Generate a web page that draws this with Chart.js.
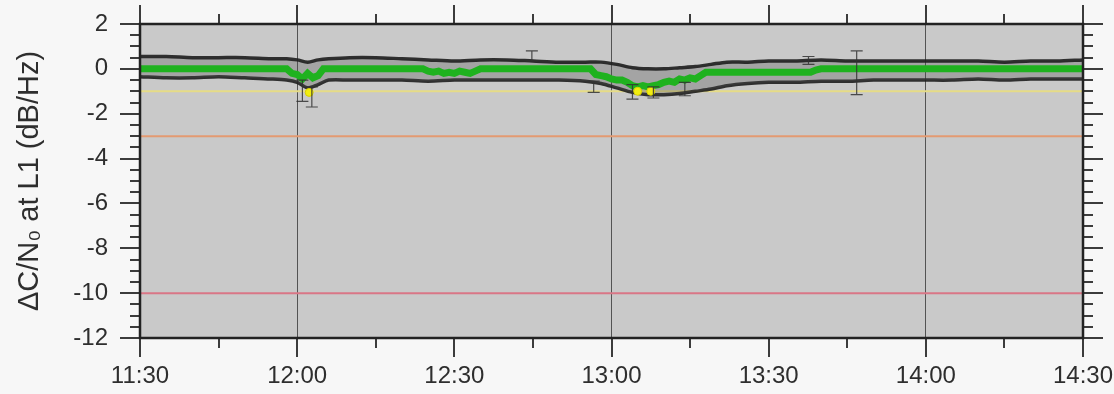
<!DOCTYPE html>
<html>
<head>
<meta charset="utf-8">
<script src="https://cdn.jsdelivr.net/npm/chart.js@4/dist/chart.umd.min.js"></script>
<style>
html,body{margin:0;padding:0;background:#f7f7f7;}
#wrap{width:1114px;height:394px;position:relative;}
</style>
</head>
<body>
<div id="wrap"><canvas id="c"></canvas></div>
<script>
// ---- data (time in minutes since midnight) ----
const xTickValues = [690, 720, 750, 780, 810, 840, 870];
const yTickValues = [2, 0, -2, -4, -6, -8, -10, -12];

// green mean series, one value per minute from 11:30 (690) to 14:30 (870)
const meanStart = 690;
const meanValues = [
  0,0,0,0,0,0,0,0,0,0, 0,0,0,0,0,0,0,0,0,0, 0,0,0,0,0,0,0,0,0,-0.2,
  -0.25,-0.45,-0.2,-0.4,-0.3,0,0,0,0,0, 0,0,0,0,0,0,0,0,0,0, 0,0,0,0,0,
  -0.1,-0.15,-0.1,-0.2,-0.15,-0.2,-0.1,-0.15,-0.2,-0.1,
  0,0,0,0,0,0,0,0,0,0, 0,0,0,0,0,0,0,0,0,0, 0,0,
  -0.25,-0.3,-0.35,
  -0.45,-0.5,-0.5,-0.6,-0.75,-0.8,-0.75,-0.8,-0.75,-0.7,
  -0.6,-0.55,-0.6,-0.45,-0.5,-0.4,-0.45,-0.3,-0.15,
  -0.15,-0.15,-0.15,-0.15,-0.15,-0.15,-0.15,-0.15,-0.15,-0.15,
  -0.15,-0.15,-0.15,-0.15,-0.15,-0.15,-0.15,-0.15,-0.15,-0.15,
  -0.05,
  0,0,0,0,0,0,0,0,0,0, 0,0,0,0,0,0,0,0,0,0, 0,0,0,0,0,0,0,0,0,0,
  0,0,0,0,0,0,0,0,0,0, 0,0,0,0,0,0,0,0,0,0, 0
];

// spread envelope
const envT  = [690,695,700,705,710,715,718,720,722,724,726,730,735,740,745,750,755,760,765,770,775,778,781,784,787,790,793,796,799,802,806,810,815,820,825,830,835,840,845,850,855,860,865,870];
const envHi = [0.55,0.55,0.5,0.5,0.5,0.45,0.45,0.4,0.3,0.4,0.45,0.5,0.5,0.45,0.4,0.35,0.4,0.4,0.35,0.3,0.3,0.3,0.2,0.05,0,0,0.05,0.1,0.2,0.3,0.3,0.35,0.35,0.4,0.35,0.35,0.35,0.35,0.35,0.35,0.3,0.35,0.35,0.4];
const envLo = [-0.35,-0.4,-0.4,-0.35,-0.4,-0.45,-0.5,-0.6,-0.85,-0.7,-0.5,-0.5,-0.5,-0.5,-0.55,-0.5,-0.5,-0.5,-0.5,-0.5,-0.55,-0.65,-0.85,-1.05,-1.15,-1.15,-1.1,-1.0,-0.9,-0.75,-0.65,-0.6,-0.6,-0.55,-0.55,-0.5,-0.5,-0.5,-0.5,-0.45,-0.5,-0.45,-0.45,-0.45];

// yellow (flagged) points
const flagT = [722.3, 785, 787.5];
const flagV = [-1.05, -1.0, -1.0];

// error bars
const errT  = [721, 722.8, 764.8, 776.6, 784, 788, 794, 817.6, 826.8];
const errLo = [-1.45, -1.7, 0.35, -1.05, -1.35, -1.3, -1.2, 0.2, -1.15];
const errHi = [-0.5, -0.8, 0.8, -0.55, -0.7, -0.8, -0.6, 0.55, 0.8];

// threshold lines
const thrValues = [-1, -3, -10];
const thrColors = ['#e6dc86', '#e39a72', '#d97686'];

const xMin = 690, xMax = 870;

// ---- build ----
const meanPts = meanValues.map((v,i)=>({x:meanStart+i, y:v}));
const hiPts = envT.map((t,i)=>({x:t,y:envHi[i]}));
const loPts = envT.map((t,i)=>({x:t,y:envLo[i]}));
const flagPts = flagT.map((t,i)=>({x:t,y:flagV[i]}));

const datasets = [
  {label:'flag', data:flagPts, showLine:false, pointRadius:4, pointBackgroundColor:'#f2ee10', pointBorderColor:'#d8d000', pointBorderWidth:1, order:0},
  {label:'mean', data:meanPts, borderColor:'#1fb21f', borderWidth:7, pointRadius:0, tension:0, order:1},
  {label:'hi', data:hiPts, borderColor:'rgba(30,30,30,0.9)', borderWidth:3.5, pointRadius:0, tension:0.3, fill:'+1', backgroundColor:'rgba(80,80,80,0.3)', order:2},
  {label:'lo', data:loPts, borderColor:'rgba(30,30,30,0.9)', borderWidth:3.5, pointRadius:0, tension:0.3, order:3},
];
thrValues.forEach((v,i)=>{
  datasets.push({label:'thr'+v, data:[{x:xMin,y:v},{x:xMax,y:v}], borderColor:thrColors[i], borderWidth:2, pointRadius:0, order:5});
});

const fmt = v => { const h=Math.floor(v/60), m=Math.round(v%60); return h+':'+(m<10?'0':'')+m; };

const plotDeco = {
  id:'plotDeco',
  beforeDraw(c){
    const {ctx, chartArea:a} = c;
    ctx.save();
    ctx.fillStyle = '#c9c9c9';
    ctx.fillRect(a.left, a.top, a.right-a.left, a.bottom-a.top);
    ctx.restore();
  },
  afterDatasetsDraw(c){
    const {ctx} = c; const xs=c.scales.x, ys=c.scales.y;
    ctx.save();
    ctx.strokeStyle='rgba(50,50,50,0.85)'; ctx.lineWidth=1.2;
    errT.forEach((t,i)=>{
      const px=xs.getPixelForValue(t), p1=ys.getPixelForValue(errLo[i]), p2=ys.getPixelForValue(errHi[i]);
      ctx.beginPath();
      ctx.moveTo(px,p1); ctx.lineTo(px,p2);
      ctx.moveTo(px-6,p1); ctx.lineTo(px+6,p1);
      ctx.moveTo(px-6,p2); ctx.lineTo(px+6,p2);
      ctx.stroke();
    });
    ctx.restore();
  },
  afterDraw(c){
    const {ctx, chartArea:a} = c; const xs=c.scales.x, ys=c.scales.y;
    ctx.save();
    ctx.strokeStyle='#3c3c3c'; ctx.lineWidth=2;
    ctx.beginPath();
    for(let t=xMin; t<=xMax; t+=15){
      const px = Math.round(xs.getPixelForValue(t));
      const L = (t%30===0)?19:10;
      ctx.moveTo(px,a.bottom); ctx.lineTo(px,a.bottom+L);
      ctx.moveTo(px,a.top); ctx.lineTo(px,a.top-L);
    }
    for(let v=-12; v<=2.001; v+=0.5){
      const py = Math.round(ys.getPixelForValue(v));
      const L = (Math.abs(v%2)<1e-6)?20:10;
      ctx.moveTo(a.left,py); ctx.lineTo(a.left-L,py);
      ctx.moveTo(a.right,py); ctx.lineTo(a.right+L,py);
    }
    ctx.stroke();
    ctx.strokeStyle='#222'; ctx.lineWidth=2.5;
    ctx.strokeRect(a.left, a.top, a.right-a.left, a.bottom-a.top);
    ctx.restore();
  }
};

const FONT = "'Liberation Sans', Arial, Helvetica, sans-serif";
const zeroPad = s => { s.paddingLeft=0; s.paddingRight=0; s.paddingTop=0; s.paddingBottom=0; };

new Chart(document.getElementById('c'), {
  type:'line',
  data:{datasets},
  plugins:[plotDeco],
  options:{
    responsive:true, maintainAspectRatio:false, animation:false,
    layout:{padding:{top:24, right:31, left:0, bottom:0}},
    plugins:{legend:{display:false}, tooltip:{enabled:false}},
    scales:{
      x:{
        type:'linear', min:xMin, max:xMax,
        afterBuildTicks(s){ s.ticks = xTickValues.map(v=>({value:v})); },
        afterFit(s){ s.height = 56; zeroPad(s); },
        ticks:{callback:v=>fmt(v), color:'#2e2e2e', font:{family:FONT, size:24}, padding:24, maxRotation:0, autoSkip:false},
        grid:{drawTicks:false, lineWidth:1, color:ctx=> (ctx.tick && ctx.tick.value%60===0 && ctx.tick.value>xMin && ctx.tick.value<xMax) ? 'rgba(70,70,70,0.9)' : 'rgba(0,0,0,0)'},
        border:{display:false}
      },
      y:{
        type:'linear', min:-12, max:2,
        afterBuildTicks(s){ s.ticks = yTickValues.map(v=>({value:v})); },
        afterFit(s){ s.width = 140; zeroPad(s); },
        ticks:{color:'#2e2e2e', font:{family:FONT, size:24}, padding:32},
        grid:{display:false, drawTicks:false},
        border:{display:false},
        title:{display:true, text:'\u0394C/N\u2080 at L1 (dB/Hz)', color:'#2e2e2e', font:{family:FONT, size:29}, padding:{top:13,bottom:0}}
      }
    }
  }
});
</script>
</body>
</html>
